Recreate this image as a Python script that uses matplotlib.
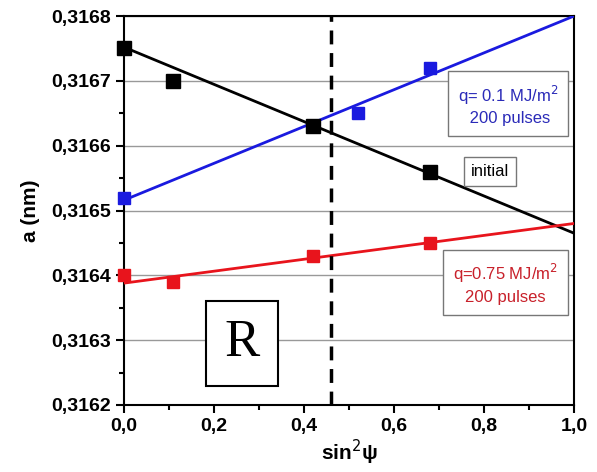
import numpy as np
import matplotlib
matplotlib.use('Agg')
import matplotlib.pyplot as plt
from matplotlib.ticker import MultipleLocator, FuncFormatter

plt.rcParams['font.family'] = ['Liberation Sans', 'DejaVu Sans']

# measured points (sin^2 psi, a in nm)
x_init = [0.0, 0.11, 0.42, 0.68]
a_init = [0.31675, 0.31670, 0.31663, 0.31656]
x_q01 = [0.0, 0.42, 0.52, 0.68]
a_q01 = [0.31652, 0.31663, 0.31665, 0.31672]
x_q075 = [0.0, 0.11, 0.42, 0.68]
a_q075 = [0.31640, 0.31639, 0.31643, 0.31645]

# linear fits, values at sin^2 psi = 0 and 1
fit_x = [0.0, 1.0]
fit_init = [0.316752, 0.316465]
fit_q01 = [0.316516, 0.316800]
fit_q075 = [0.316388, 0.316480]

psi_star = 0.46

fig = plt.figure(figsize=(5.97, 4.72), dpi=100)
ax = fig.add_axes([0.2077, 0.142, 0.7538, 0.824])

ax.grid(axis='y', color='#999999', lw=1.0)
ax.set_axisbelow(True)

ax.plot(fit_x, fit_q01, color='#1a1adf', lw=2, zorder=3)
ax.plot(fit_x, fit_init, color='black', lw=2, zorder=3)
ax.plot(fit_x, fit_q075, color='#e8141c', lw=2, zorder=3)
ax.plot(x_q01, a_q01, 's', color='#1a1adf', ms=9, zorder=4, clip_on=False)
ax.plot(x_init, a_init, 's', color='black', ms=10, zorder=4, clip_on=False)
ax.plot(x_q075, a_q075, 's', color='#e8141c', ms=9, zorder=4, clip_on=False)

ax.axvline(psi_star, color='black', lw=2.5, ls=(0, (4, 2.5)), zorder=3)

ax.set_xlim(0, 1)
ax.set_ylim(0.3162, 0.3168)
ax.xaxis.set_major_locator(MultipleLocator(0.2))
ax.xaxis.set_minor_locator(MultipleLocator(0.1))
ax.yaxis.set_major_locator(MultipleLocator(0.0001))
ax.yaxis.set_minor_locator(MultipleLocator(0.00005))
ax.xaxis.set_major_formatter(FuncFormatter(lambda v, p: f'{v:.1f}'.replace('.', ',')))
ax.yaxis.set_major_formatter(FuncFormatter(lambda v, p: f'{v:.4f}'.replace('.', ',')))
ax.tick_params(which='major', direction='out', length=6, width=1.5, labelsize=14)
ax.tick_params(which='minor', direction='out', length=3.5, width=1.5)
for lab in ax.get_xticklabels() + ax.get_yticklabels():
    lab.set_fontweight('bold')
for s in ax.spines.values():
    s.set_linewidth(1.5)

ax.set_ylabel('a (nm)', fontsize=15, fontweight='bold', labelpad=8)
ax.set_xlabel(r'sin$^{2}$ψ', fontsize=15, fontweight='bold', labelpad=2)

ax.text(0.853, 0.316663, 'q= 0.1 MJ/m$^2$\n 200 pulses', color='#2a2ab8',
        fontsize=12, ha='center', va='center', linespacing=1.4, zorder=5,
        bbox=dict(boxstyle='square,pad=0.6', fc='white', ec='#777777', lw=1))
ax.text(0.813, 0.31656, 'initial', color='black', fontsize=12,
        ha='center', va='center', zorder=5,
        bbox=dict(boxstyle='square,pad=0.4', fc='white', ec='#777777', lw=1))
ax.text(0.847, 0.316388, 'q=0.75 MJ/m$^2$\n200 pulses', color='#c8202a',
        fontsize=12, ha='center', va='center', linespacing=1.4, zorder=5,
        bbox=dict(boxstyle='square,pad=0.6', fc='white', ec='#777777', lw=1))
ax.text(0.263, 0.316295, 'R', fontsize=38, family='Liberation Serif',
        ha='center', va='center', zorder=5,
        bbox=dict(boxstyle='square,pad=0.35', fc='white', ec='black', lw=1.5))

fig.savefig('out.png', dpi=100)
